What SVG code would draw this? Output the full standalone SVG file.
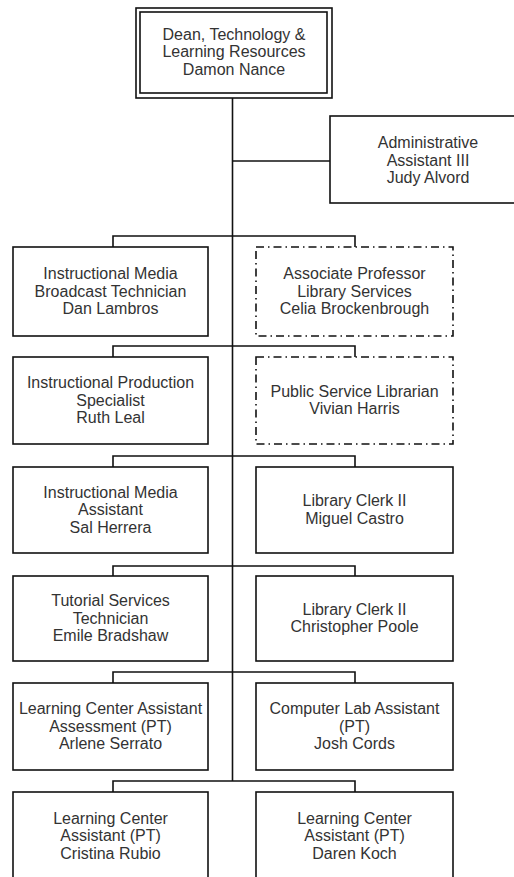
<svg xmlns="http://www.w3.org/2000/svg" width="514" height="877" viewBox="0 0 514 877">
<style>
.box{fill:#fff;stroke:#111;stroke-width:1.6}
.dash{fill:#fff;stroke:#111;stroke-width:1.6;stroke-dasharray:8 4 1.5 4}
.ln{fill:none;stroke:#111;stroke-width:1.6}
text{font-family:"Liberation Sans",Arial,sans-serif;font-size:16px;fill:#333;text-anchor:middle}
</style>
<rect width="514" height="877" fill="#fff"/>
<g id="connectors">
<line class="ln" x1="232.5" y1="98" x2="232.5" y2="781"/>
<line class="ln" x1="232.5" y1="161" x2="330" y2="161"/>
<polyline class="ln" points="113,247 113,236 355,236 355,247"/>
<polyline class="ln" points="113,357 113,346 355,346 355,357"/>
<polyline class="ln" points="113,467 113,456 355,456 355,467"/>
<polyline class="ln" points="113,576 113,566 355,566 355,576"/>
<polyline class="ln" points="113,683 113,672 355,672 355,683"/>
<polyline class="ln" points="113,792 113,781 355,781 355,792"/>
</g>
<g id="dean">
<rect class="box" x="136" y="8" width="196" height="90"/>
<rect class="box" x="140" y="12" width="187" height="81"/>
<text x="234" y="39.5">Dean, Technology &amp;</text>
<text x="234" y="57">Learning Resources</text>
<text x="234" y="74.5">Damon Nance</text>
</g>
<g id="admin">
<rect class="box" x="330" y="116" width="196" height="87"/>
<text x="428" y="148">Administrative</text>
<text x="428" y="165.5">Assistant III</text>
<text x="428" y="183">Judy Alvord</text>
</g>
<g id="r1l">
<rect class="box" x="13" y="247" width="195" height="89"/>
<text x="110.5" y="279">Instructional Media</text>
<text x="110.5" y="296.5">Broadcast Technician</text>
<text x="110.5" y="314">Dan Lambros</text>
</g>
<g id="r1r">
<rect class="dash" x="256" y="247" width="197" height="89"/>
<text x="354.5" y="279">Associate Professor</text>
<text x="354.5" y="296.5">Library Services</text>
<text x="354.5" y="314">Celia Brockenbrough</text>
</g>
<g id="r2l">
<rect class="box" x="13" y="357" width="195" height="87"/>
<text x="110.5" y="388">Instructional Production</text>
<text x="110.5" y="405.5">Specialist</text>
<text x="110.5" y="423">Ruth Leal</text>
</g>
<g id="r2r">
<rect class="dash" x="256" y="357" width="197" height="87"/>
<text x="354.5" y="396.75">Public Service Librarian</text>
<text x="354.5" y="414.25">Vivian Harris</text>
</g>
<g id="r3l">
<rect class="box" x="13" y="467" width="195" height="86"/>
<text x="110.5" y="497.5">Instructional Media</text>
<text x="110.5" y="515">Assistant</text>
<text x="110.5" y="532.5">Sal Herrera</text>
</g>
<g id="r3r">
<rect class="box" x="256" y="467" width="197" height="86"/>
<text x="354.5" y="506.25">Library Clerk II</text>
<text x="354.5" y="523.75">Miguel Castro</text>
</g>
<g id="r4l">
<rect class="box" x="13" y="576" width="195" height="85"/>
<text x="110.5" y="606">Tutorial Services</text>
<text x="110.5" y="623.5">Technician</text>
<text x="110.5" y="641">Emile Bradshaw</text>
</g>
<g id="r4r">
<rect class="box" x="256" y="576" width="197" height="85"/>
<text x="354.5" y="614.75">Library Clerk II</text>
<text x="354.5" y="632.25">Christopher Poole</text>
</g>
<g id="r5l">
<rect class="box" x="13" y="683" width="195" height="87"/>
<text x="110.5" y="714">Learning Center Assistant</text>
<text x="110.5" y="731.5">Assessment (PT)</text>
<text x="110.5" y="749">Arlene Serrato</text>
</g>
<g id="r5r">
<rect class="box" x="256" y="683" width="197" height="87"/>
<text x="354.5" y="714">Computer Lab Assistant</text>
<text x="354.5" y="731.5">(PT)</text>
<text x="354.5" y="749">Josh Cords</text>
</g>
<g id="r6l">
<rect class="box" x="13" y="792" width="195" height="90"/>
<text x="110.5" y="823.5">Learning Center</text>
<text x="110.5" y="841">Assistant (PT)</text>
<text x="110.5" y="858.5">Cristina Rubio</text>
</g>
<g id="r6r">
<rect class="box" x="256" y="792" width="197" height="90"/>
<text x="354.5" y="823.5">Learning Center</text>
<text x="354.5" y="841">Assistant (PT)</text>
<text x="354.5" y="858.5">Daren Koch</text>
</g>
</svg>
